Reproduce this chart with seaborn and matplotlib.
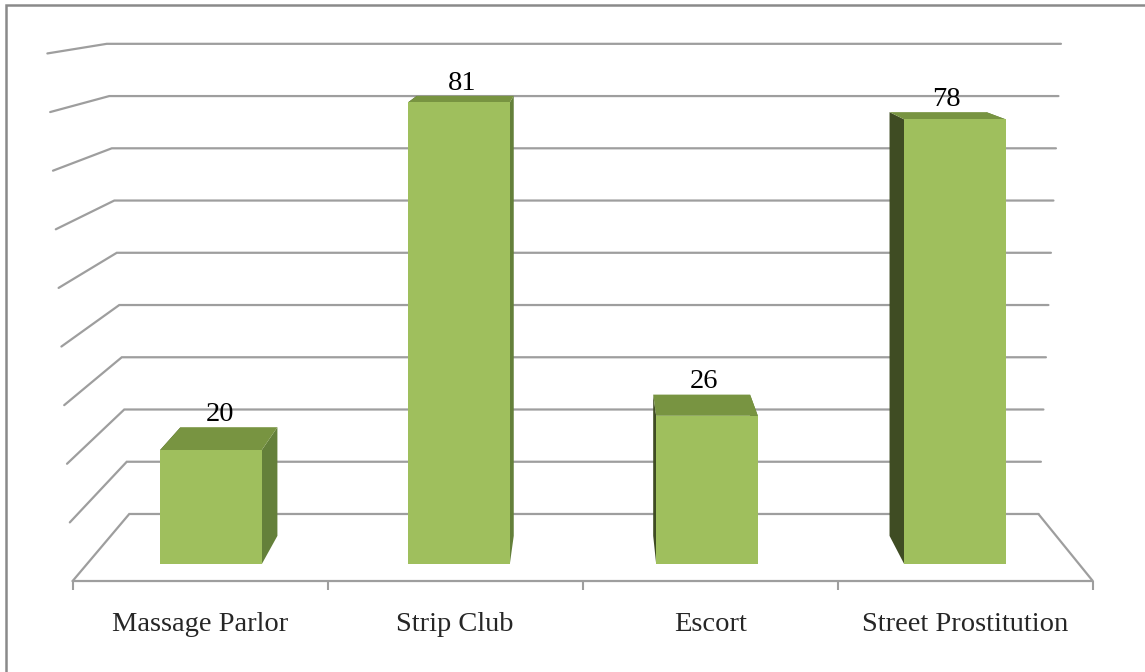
import matplotlib
matplotlib.use("Agg")
import matplotlib.pyplot as plt
import seaborn as sns
import numpy as np
from matplotlib.patches import Polygon, Rectangle

# data
categories = ["Massage Parlor", "Strip Club", "Escort", "Street Prostitution"]
counts = [20, 81, 26, 78]
grid_values = [0, 10, 20, 30, 40, 50, 60, 70, 80, 90]

# colours
FRONT = "#9fbf5d"
TOP = "#789441"
SIDE_R = "#64803a"
SIDE_L = "#3f4c23"
GRID = "#9e9e9e"

# layout of the "front plane" in pixels (figure is 1145 x 672 at dpi 100)
W, H = 1145, 672
X0_PX, SX = 211, 248      # pixel of first category, px per category
Y0_PX, SY = 564, 5.7      # pixel row of value 0, px per unit

# fake 3d: depth t moves a point towards a vanishing point, lean tilts verticals
U_VP = (593 - X0_PX) / SX
V_VP = (Y0_PX + 35) / SY
T_BAR = 0.047
T_BACK = 0.0835
T_FRONT = -0.0284
LEAN = 0.00055
U_C = 1.5


def proj(u, v, t, lean=0.0):
    u2 = u + t * (U_VP - u)
    v2 = v + t * (V_VP - v)
    u2 = u2 + lean * v * (u2 - U_C)
    return u2, v2


XLIM = (-0.7, 3.7)
YLIM = (proj(0, 0, T_FRONT)[1], 94)

sns.set_style("white")
plt.rcParams["font.family"] = ["Liberation Serif", "DejaVu Serif"]

fig = plt.figure(figsize=(W / 100, H / 100), dpi=100)
ax_left = (X0_PX + XLIM[0] * SX) / W
ax_w = (XLIM[1] - XLIM[0]) * SX / W
ax_bottom = (H - (Y0_PX - SY * YLIM[0])) / H
ax_h = (YLIM[1] - YLIM[0]) * SY / H
ax = fig.add_axes([ax_left, ax_bottom, ax_w, ax_h])

sns.barplot(x=categories, y=counts, ax=ax, color=FRONT, saturation=1,
            width=0.41, linewidth=0, zorder=1)

ax.set_xlim(*XLIM)
ax.set_ylim(*YLIM)
for s in ax.spines.values():
    s.set_visible(False)

# back wall, left wall and floor
for g in grid_values:
    bl = proj(-0.5, g, T_BACK, LEAN)
    br = proj(3.5, g, T_BACK, LEAN)
    fl = proj(-0.5, g, T_FRONT, LEAN)
    ax.plot([fl[0], bl[0], br[0]], [fl[1], bl[1], br[1]], color=GRID,
            lw=1.6, zorder=0.5, clip_on=False, solid_joinstyle="miter")
f_l = proj(-0.5, 0, T_FRONT)
f_r = proj(3.5, 0, T_FRONT)
b_r = proj(3.5, 0, T_BACK)
ax.plot([f_l[0], f_r[0], b_r[0]], [f_l[1], f_r[1], b_r[1]], color=GRID,
        lw=1.6, zorder=0.5, clip_on=False)

# side and top faces from the bars seaborn drew
for p in ax.patches:
    x0, w, h = p.get_x(), p.get_width(), p.get_height()
    fbl, fbr, ftr, ftl = (x0, 0), (x0 + w, 0), (x0 + w, h), (x0, h)
    bbl, bbr = proj(x0, 0, T_BAR), proj(x0 + w, 0, T_BAR)
    btr, btl = proj(x0 + w, h, T_BAR), proj(x0, h, T_BAR)
    ax.add_patch(Polygon([fbr, ftr, btr, bbr], closed=True, facecolor=SIDE_R,
                         edgecolor="none", zorder=0.8))
    ax.add_patch(Polygon([fbl, ftl, btl, bbl], closed=True, facecolor=SIDE_L,
                         edgecolor="none", zorder=0.8))
    ax.add_patch(Polygon([ftl, ftr, btr, btl], closed=True, facecolor=TOP,
                         edgecolor="none", zorder=0.9))
    mid_u = proj(x0 + w / 2, h, T_BAR / 2)[0]
    ax.annotate(f"{h:.0f}", (mid_u, btl[1]), xytext=(0, 4.5),
                textcoords="offset points", ha="center", va="baseline",
                fontsize=20.5, color="black", zorder=3)

# category labels and separators on the front edge of the floor
ax.set_xticks([proj(i, 0, T_FRONT)[0] for i in range(len(categories))],
              labels=categories)
ax.set_xticks([proj(i - 0.5, 0, T_FRONT)[0] for i in range(len(categories) + 1)],
              minor=True)
ax.tick_params(axis="x", which="both", bottom=True)
ax.tick_params(axis="x", which="major", length=0, pad=22.5, labelsize=20.5)
ax.tick_params(axis="x", which="minor", length=6.5, width=1.5, color=GRID,
               direction="out")
ax.set_yticks([])
ax.set_xlabel("")
ax.set_ylabel("")

# chart border
fig.add_artist(Rectangle((6 / W, -0.2), 1.2, 1.2 - 5 / H, transform=fig.transFigure,
                         fill=False, edgecolor="#8a8a8a", lw=1.8))

fig.savefig("out.png", dpi=100, facecolor="white")
